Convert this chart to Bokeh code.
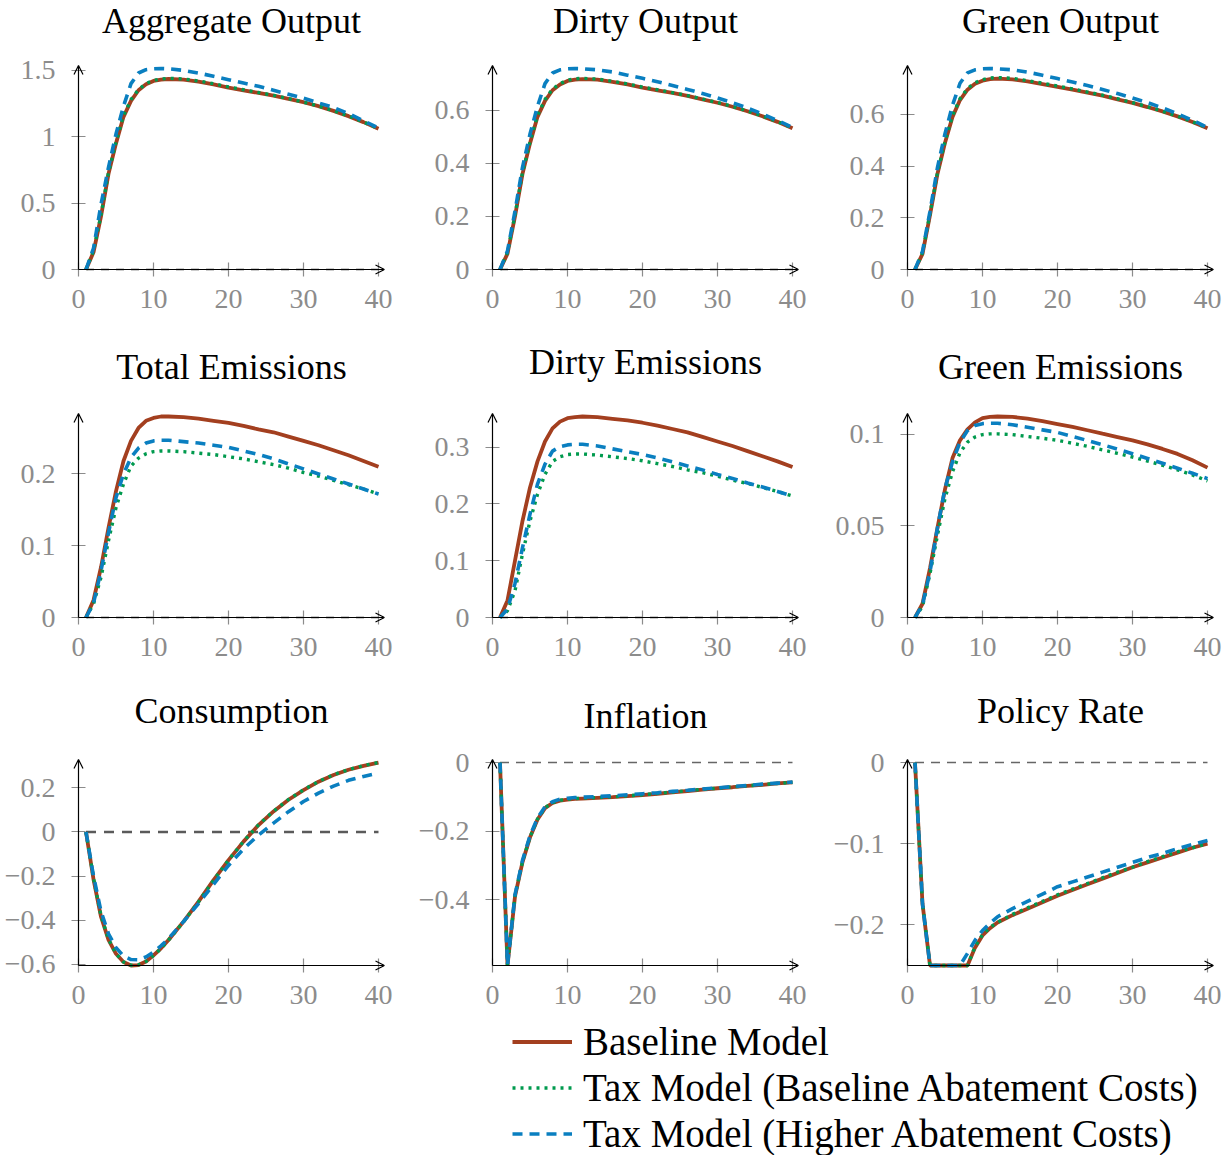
from bokeh.plotting import figure
from bokeh.layouts import column, row
from bokeh.models import FixedTicker, Arrow, OpenHead, Legend, LegendItem, Range1d, Label
from bokeh.embed import file_html
from bokeh.resources import INLINE

# ---------------- data ----------------
periods = [1, 2, 3, 4, 5, 6, 7, 8, 9, 10, 11, 12, 14, 16, 18, 20, 22, 24, 26, 28, 30, 32, 34, 36, 38, 40]

series_names = ["Baseline Model",
                "Tax Model (Baseline Abatement Costs)",
                "Tax Model (Higher Abatement Costs)"]

agg_base = [0, 0.13, 0.40, 0.72, 0.95, 1.15, 1.27, 1.35, 1.395, 1.42, 1.43, 1.435, 1.43, 1.415, 1.395, 1.37, 1.35, 1.33, 1.31, 1.285, 1.26, 1.23, 1.195, 1.155, 1.11, 1.06]
agg_tax = [0, 0.14, 0.41, 0.73, 0.96, 1.16, 1.28, 1.355, 1.40, 1.425, 1.435, 1.44, 1.435, 1.42, 1.40, 1.375, 1.354, 1.333, 1.312, 1.287, 1.261, 1.231, 1.196, 1.156, 1.111, 1.061]
agg_high = [0, 0.16, 0.49, 0.77, 1.02, 1.23, 1.40, 1.48, 1.505, 1.512, 1.514, 1.512, 1.50, 1.48, 1.455, 1.43, 1.405, 1.38, 1.35, 1.32, 1.29, 1.255, 1.22, 1.175, 1.12, 1.065]

dout_base = [0, 0.06, 0.20, 0.36, 0.475, 0.575, 0.635, 0.675, 0.697, 0.71, 0.715, 0.717, 0.715, 0.707, 0.697, 0.685, 0.675, 0.665, 0.654, 0.641, 0.628, 0.613, 0.596, 0.577, 0.556, 0.532]
dout_tax = [0, 0.065, 0.205, 0.365, 0.48, 0.58, 0.64, 0.68, 0.70, 0.713, 0.718, 0.72, 0.717, 0.709, 0.699, 0.687, 0.677, 0.666, 0.655, 0.642, 0.629, 0.614, 0.597, 0.578, 0.557, 0.533]
dout_high = [0, 0.07, 0.22, 0.385, 0.51, 0.615, 0.70, 0.74, 0.752, 0.756, 0.757, 0.756, 0.752, 0.744, 0.732, 0.72, 0.707, 0.693, 0.678, 0.663, 0.646, 0.628, 0.608, 0.586, 0.561, 0.535]

gout_base = [0, 0.06, 0.21, 0.37, 0.49, 0.59, 0.655, 0.695, 0.718, 0.73, 0.736, 0.738, 0.735, 0.727, 0.717, 0.706, 0.695, 0.684, 0.672, 0.658, 0.644, 0.628, 0.611, 0.592, 0.57, 0.546]
gout_tax = [0, 0.065, 0.215, 0.375, 0.495, 0.595, 0.66, 0.70, 0.722, 0.734, 0.74, 0.742, 0.739, 0.73, 0.72, 0.709, 0.698, 0.686, 0.674, 0.66, 0.645, 0.629, 0.612, 0.593, 0.571, 0.547]
gout_high = [0, 0.07, 0.225, 0.395, 0.525, 0.635, 0.72, 0.76, 0.772, 0.776, 0.777, 0.776, 0.772, 0.763, 0.751, 0.738, 0.725, 0.711, 0.696, 0.68, 0.663, 0.645, 0.625, 0.602, 0.577, 0.549]

tem_base = [0, 0.024, 0.07, 0.125, 0.176, 0.218, 0.246, 0.264, 0.274, 0.278, 0.28, 0.28, 0.279, 0.277, 0.274, 0.271, 0.267, 0.262, 0.258, 0.252, 0.246, 0.24, 0.233, 0.226, 0.218, 0.21]
tem_tax = [0, 0.019, 0.056, 0.107, 0.153, 0.186, 0.211, 0.222, 0.228, 0.231, 0.232, 0.232, 0.231, 0.229, 0.227, 0.224, 0.221, 0.217, 0.213, 0.208, 0.202, 0.197, 0.191, 0.185, 0.179, 0.172]
tem_high = [0, 0.02, 0.065, 0.118, 0.167, 0.2, 0.223, 0.236, 0.243, 0.246, 0.247, 0.247, 0.245, 0.243, 0.24, 0.237, 0.232, 0.227, 0.221, 0.214, 0.207, 0.2, 0.193, 0.186, 0.179, 0.172]

dem_base = [0, 0.03, 0.1, 0.17, 0.229, 0.275, 0.31, 0.333, 0.345, 0.351, 0.353, 0.354, 0.353, 0.35, 0.347, 0.343, 0.338, 0.332, 0.326, 0.318, 0.31, 0.302, 0.293, 0.284, 0.275, 0.265]
dem_tax = [0, 0.012, 0.047, 0.112, 0.17, 0.217, 0.252, 0.275, 0.283, 0.287, 0.288, 0.288, 0.286, 0.283, 0.28, 0.276, 0.271, 0.266, 0.26, 0.255, 0.249, 0.242, 0.236, 0.229, 0.222, 0.214]
dem_high = [0, 0.015, 0.06, 0.123, 0.182, 0.235, 0.27, 0.293, 0.301, 0.304, 0.305, 0.305, 0.302, 0.297, 0.292, 0.287, 0.281, 0.274, 0.267, 0.26, 0.252, 0.245, 0.237, 0.23, 0.222, 0.214]

gem_base = [0, 0.0075, 0.027, 0.049, 0.07, 0.087, 0.0967, 0.1027, 0.1065, 0.1088, 0.1095, 0.1097, 0.1095, 0.1085, 0.1072, 0.1056, 0.104, 0.1022, 0.1003, 0.0985, 0.0967, 0.0945, 0.092, 0.0893, 0.0858, 0.0818]
gem_tax = [0, 0.006, 0.024, 0.045, 0.065, 0.0795, 0.09, 0.0957, 0.0985, 0.0998, 0.1002, 0.1002, 0.0998, 0.0988, 0.0978, 0.0967, 0.0951, 0.0934, 0.0915, 0.0896, 0.0876, 0.0854, 0.0831, 0.0806, 0.0778, 0.0745]
gem_high = [0, 0.007, 0.025, 0.049, 0.0705, 0.085, 0.0957, 0.102, 0.1048, 0.1058, 0.106, 0.106, 0.1052, 0.1038, 0.1024, 0.101, 0.0988, 0.0966, 0.0943, 0.0919, 0.0894, 0.0868, 0.0842, 0.0815, 0.0787, 0.0758]

cons_base = [0, -0.215, -0.385, -0.49, -0.553, -0.59, -0.606, -0.604, -0.588, -0.56, -0.528, -0.49, -0.407, -0.316, -0.219, -0.128, -0.044, 0.031, 0.093, 0.146, 0.19, 0.228, 0.258, 0.282, 0.3, 0.314]
cons_tax = [0, -0.21, -0.38, -0.487, -0.552, -0.59, -0.605, -0.603, -0.588, -0.561, -0.529, -0.491, -0.408, -0.317, -0.22, -0.128, -0.043, 0.032, 0.094, 0.147, 0.191, 0.229, 0.259, 0.283, 0.301, 0.315]
cons_high = [0, -0.2, -0.36, -0.462, -0.525, -0.563, -0.579, -0.58, -0.567, -0.545, -0.517, -0.484, -0.407, -0.325, -0.238, -0.152, -0.077, -0.014, 0.04, 0.092, 0.138, 0.176, 0.208, 0.234, 0.252, 0.268]

infl_base = [0, -0.591, -0.39, -0.29, -0.218, -0.166, -0.133, -0.118, -0.111, -0.108, -0.106, -0.105, -0.103, -0.101, -0.098, -0.095, -0.091, -0.087, -0.083, -0.079, -0.075, -0.072, -0.068, -0.065, -0.061, -0.058]
infl_tax = [0, -0.591, -0.388, -0.289, -0.217, -0.165, -0.132, -0.117, -0.11, -0.107, -0.105, -0.104, -0.102, -0.1, -0.097, -0.094, -0.09, -0.086, -0.082, -0.078, -0.075, -0.071, -0.068, -0.064, -0.061, -0.058]
infl_high = [0, -0.59, -0.385, -0.285, -0.213, -0.162, -0.129, -0.114, -0.107, -0.104, -0.102, -0.101, -0.099, -0.097, -0.094, -0.091, -0.088, -0.084, -0.081, -0.077, -0.074, -0.07, -0.067, -0.063, -0.06, -0.057]

rate_base = [0, -0.174, -0.25, -0.25, -0.25, -0.25, -0.25, -0.25, -0.228, -0.213, -0.204, -0.197, -0.188, -0.18, -0.172, -0.164, -0.157, -0.15, -0.143, -0.136, -0.129, -0.123, -0.117, -0.111, -0.105, -0.1]
rate_tax = [0, -0.174, -0.25, -0.25, -0.25, -0.25, -0.25, -0.25, -0.227, -0.212, -0.203, -0.197, -0.187, -0.179, -0.171, -0.163, -0.156, -0.149, -0.142, -0.135, -0.129, -0.122, -0.116, -0.11, -0.105, -0.1]
rate_high = [0, -0.174, -0.25, -0.25, -0.25, -0.25, -0.25, -0.235, -0.219, -0.207, -0.198, -0.19, -0.18, -0.171, -0.162, -0.153, -0.147, -0.141, -0.135, -0.129, -0.123, -0.117, -0.112, -0.106, -0.101, -0.096]

x_ticks = [0, 10, 20, 30, 40]

panels = [
    ("Aggregate Output", [agg_base, agg_tax, agg_high], [0, 0.5, 1, 1.5], ["0", "0.5", "1", "1.5"]),
    ("Dirty Output", [dout_base, dout_tax, dout_high], [0, 0.2, 0.4, 0.6], ["0", "0.2", "0.4", "0.6"]),
    ("Green Output", [gout_base, gout_tax, gout_high], [0, 0.2, 0.4, 0.6], ["0", "0.2", "0.4", "0.6"]),
    ("Total Emissions", [tem_base, tem_tax, tem_high], [0, 0.1, 0.2], ["0", "0.1", "0.2"]),
    ("Dirty Emissions", [dem_base, dem_tax, dem_high], [0, 0.1, 0.2, 0.3], ["0", "0.1", "0.2", "0.3"]),
    ("Green Emissions", [gem_base, gem_tax, gem_high], [0, 0.05, 0.1], ["0", "0.05", "0.1"]),
    ("Consumption", [cons_base, cons_tax, cons_high], [-0.6, -0.4, -0.2, 0, 0.2], ["\u22120.6", "\u22120.4", "\u22120.2", "0", "0.2"]),
    ("Inflation", [infl_base, infl_tax, infl_high], [-0.4, -0.2, 0], ["\u22120.4", "\u22120.2", "0"]),
    ("Policy Rate", [rate_base, rate_tax, rate_high], [-0.2, -0.1, 0], ["\u22120.2", "\u22120.1", "0"]),
]

# ---------------- style / geometry ----------------
FONT = "Liberation Serif"
COLORS = ["#A33F1F", "#009A4E", "#0A7FC0"]
WIDTHS = [3.8, 3.4, 3.6]
DASHES = ["solid", "3 5", "10 7"]
TICK_GRAY = "#8c8c8c"

PAD_L = 6        # frame extends this many px left of the y axis line
PAD_B = 6        # ... and below the x axis line
PAD_T = 3        # arrow tip above the highest value
X_PER_UNIT = 7.5
AXIS_W = 306     # px from x=0 to the arrow tip
FRAME_W = AXIS_W + PAD_L
COL_W = [410, 409, 403]
COL_LEFT = [72, 76, 82]
ROW_H = [330, 345, 345]
PLOT_H = [201, 201, 203]          # px between the lowest and highest value
FRAME_BOTTOM = [275, 293, 296]    # frame bottom, from the top of each row's canvas
TITLE_Y = [255, 255, 255, 257, 262, 257, 261, 256, 261]   # title position, px above frame bottom
ZERO_STYLE = [("#333333", 1.5, "8 7")] * 6 + [("#5a5a5a", 2.5, "10 8"), ("#666666", 1.3, "9 7"), ("#666666", 1.3, "9 7")]


def make_panel(i, title, ys, yticks, ylabels):
    r, c = divmod(i, 3)
    ymin = min(0, min(min(s) for s in ys))
    ymax = max(0, max(max(s) for s in ys))
    ppu = PLOT_H[r] / (ymax - ymin)
    y0 = ymin - PAD_B / ppu
    y1 = y0 + FRAME_BOTTOM[r] / ppu
    x0 = -PAD_L / X_PER_UNIT
    x1 = x0 + FRAME_W / X_PER_UNIT
    p = figure(width=COL_W[c], height=ROW_H[r], output_backend="svg", toolbar_location=None,
               x_range=Range1d(x0, x1), y_range=Range1d(y0, y1),
               min_border_left=COL_LEFT[c], min_border_right=COL_W[c] - COL_LEFT[c] - FRAME_W,
               min_border_top=0, min_border_bottom=ROW_H[r] - FRAME_BOTTOM[r])
    p.outline_line_color = None
    p.xgrid.visible = False
    p.ygrid.visible = False
    p.background_fill_color = None
    p.border_fill_color = None

    for ax, ticks, labels in ((p.xaxis[0], x_ticks, [str(t) for t in x_ticks]),
                              (p.yaxis[0], yticks, ylabels)):
        ax.ticker = FixedTicker(ticks=ticks)
        ax.major_label_overrides = {t: lab for t, lab in zip(ticks, labels)}
        ax.axis_line_color = None
        ax.major_tick_line_color = TICK_GRAY
        ax.major_tick_line_width = 1.2
        ax.major_tick_in = 13
        ax.major_tick_out = 1
        ax.minor_tick_line_color = None
        ax.major_label_text_font = FONT
        ax.major_label_text_font_size = "28px"
        ax.major_label_text_color = TICK_GRAY
    p.xaxis.major_label_standoff = 13
    p.yaxis.major_label_standoff = 16

    zc, zw, zd = ZERO_STYLE[i]
    p.line([periods[0], periods[-1]], [0, 0], line_color=zc, line_width=zw, line_dash=zd)

    for s, col, lw, dash in zip(ys, COLORS, WIDTHS, DASHES):
        p.line(periods, s, line_color=col, line_width=lw, line_dash=dash, line_cap="butt")

    head = dict(size=9, line_width=1.2, line_color="black")
    p.add_layout(Arrow(end=OpenHead(**head), x_start=0, y_start=ymin, x_end=0, y_end=ymax + PAD_T / ppu,
                       line_color="black", line_width=1.2))
    p.add_layout(Arrow(end=OpenHead(**head), x_start=0, y_start=ymin, x_end=x1, y_end=ymin,
                       line_color="black", line_width=1.2))

    p.add_layout(Label(x=(AXIS_W / 2) / X_PER_UNIT, y=y0 + TITLE_Y[i] / ppu,
                       text=title, text_align="center", text_baseline="alphabetic",
                       text_font=FONT, text_font_size="36px", text_color="black"))
    return p


figs = [make_panel(i, *pan) for i, pan in enumerate(panels)]

# ---------------- legend ----------------
lf = figure(width=1222, height=135, output_backend="svg", toolbar_location=None,
            x_axis_type=None, y_axis_type=None, min_border=0,
            x_range=Range1d(0, 1), y_range=Range1d(100, 101))
lf.outline_line_color = None
lf.xgrid.visible = False
lf.ygrid.visible = False
lf.background_fill_color = None
lf.border_fill_color = None
items = []
for name, s, col, lw, dash in zip(series_names, [agg_base, agg_tax, agg_high], COLORS, WIDTHS, DASHES):
    rr = lf.line(periods, s, line_color=col, line_width=lw, line_dash=dash, line_cap="butt")
    items.append(LegendItem(label=name, renderers=[rr]))
leg = Legend(items=items, location=(512, -1), orientation="vertical",
             label_text_font=FONT, label_text_font_size="39px", label_text_color="black",
             glyph_width=60, glyph_height=45, label_height=45, label_standoff=11,
             spacing=1, padding=0, margin=0, border_line_color=None,
             background_fill_alpha=0)
lf.add_layout(leg)

layout = column(row(*figs[0:3]), row(*figs[3:6]), row(*figs[6:9]), lf)

open("out.html", "w").write(file_html(layout, INLINE))
